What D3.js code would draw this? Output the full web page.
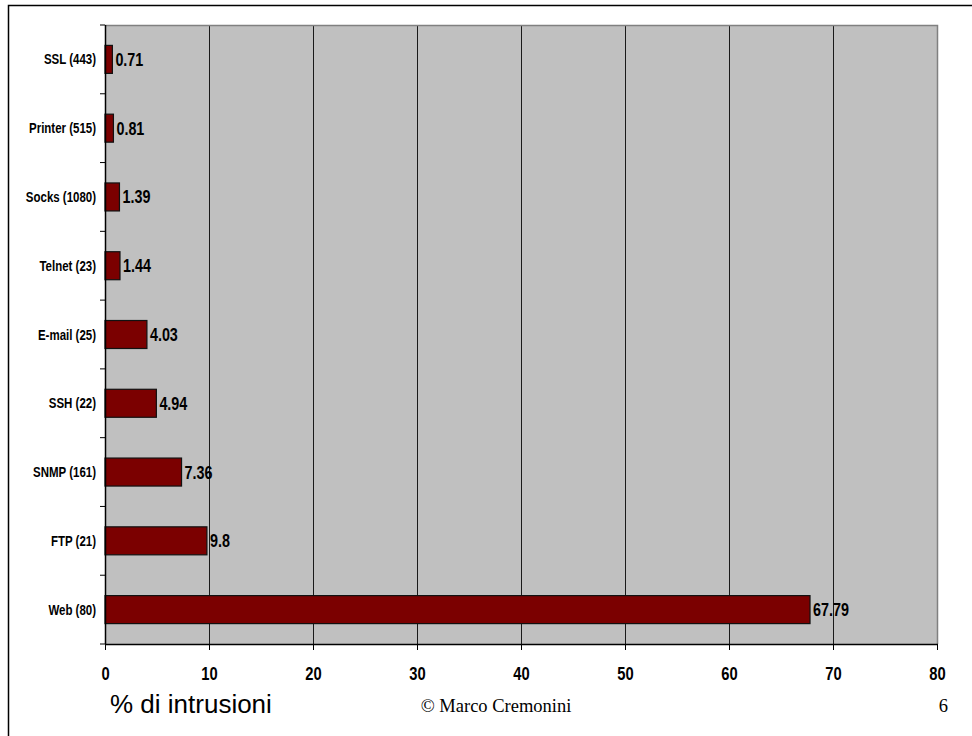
<!DOCTYPE html>
<html><head><meta charset="utf-8">
<script src="https://cdn.jsdelivr.net/npm/d3@7"></script>
<style>
html,body{margin:0;padding:0;background:#fff;}
svg{display:block;}
</style></head>
<body>
<svg id="c" width="972" height="736"></svg>
<script>
const categories = ["SSL (443)","Printer (515)","Socks (1080)","Telnet (23)","E-mail (25)","SSH (22)","SNMP (161)","FTP (21)","Web (80)"];
const values = [0.71,0.81,1.39,1.44,4.03,4.94,7.36,9.8,67.79];
const valueLabels = ["0.71","0.81","1.39","1.44","4.03","4.94","7.36","9.8","67.79"];
const xTicks = [0,10,20,30,40,50,60,70,80];
const xTitle = "% di intrusioni";
const footer = "© Marco Cremonini";
const pageNum = "6";

const sans = "'Liberation Sans',Arial,sans-serif";
const NS = 0.82; // narrow horizontal squeeze
const svg = d3.select("#c");
const L = 105, R = 937, T = 25, B = 644;

// outer frame
svg.append("path").attr("d","M8.5,736 L8.5,5.5 L972,5.5").attr("fill","none").attr("stroke","#000").attr("stroke-width",1.5);

const x = d3.scaleLinear().domain([0,80]).range([L,R]);
const y = d3.scaleBand().domain(categories).range([T,B]).paddingInner(0.593).paddingOuter(0.2965);

// plot background
svg.append("rect").attr("x",L).attr("y",T).attr("width",R-L).attr("height",B-T).attr("fill","#c0c0c0");
// grid
svg.append("g").selectAll("line").data(xTicks.filter(d=>d>0&&d<80)).join("line")
  .attr("x1",d=>x(d)+0.5).attr("x2",d=>x(d)+0.5).attr("y1",T).attr("y2",B)
  .attr("stroke","#1a1a1a").attr("stroke-width",1);
// top/right border gray
svg.append("path").attr("d",`M${L},${T+0.5} L${R+0.5},${T+0.5} L${R+0.5},${B}`).attr("fill","none").attr("stroke","#808080").attr("stroke-width",1.5);

// bars
svg.append("g").selectAll("rect").data(values).join("rect")
  .attr("x",x(0)).attr("y",(d,i)=>y(categories[i]))
  .attr("width",d=>x(d)-x(0)).attr("height",y.bandwidth())
  .attr("fill","#7b0000").attr("stroke","#111").attr("stroke-width",1.2);

// value labels
svg.append("g").selectAll("text").data(values).join("text")
  .attr("transform",(d,i)=>`translate(${x(d)+3},${y(categories[i])+y.bandwidth()/2+6.5}) scale(${NS},1)`)
  .attr("font-family",sans).attr("font-weight","bold").attr("font-size",17.5).attr("fill","#000")
  .text((d,i)=>valueLabels[i]);

// y axis
const step = y.step();
const boundaries = d3.range(categories.length+1).map(i=>T+i*step);
svg.append("g").selectAll("line").data(boundaries).join("line")
  .attr("x1",L-5).attr("x2",L).attr("y1",d=>d).attr("y2",d=>d).attr("stroke","#000");
svg.append("line").attr("x1",L+0.5).attr("x2",L+0.5).attr("y1",T).attr("y2",B).attr("stroke","#000").attr("stroke-width",1.5);
svg.append("g").selectAll("text").data(categories).join("text")
  .attr("transform",d=>`translate(96,${y(d)+y.bandwidth()/2+5}) scale(${NS},1)`)
  .attr("text-anchor","end").attr("font-family",sans).attr("font-weight","bold").attr("font-size",14)
  .text(d=>d);

// x axis
svg.append("line").attr("x1",L).attr("x2",R+1).attr("y1",B+0.5).attr("y2",B+0.5).attr("stroke","#000").attr("stroke-width",1.5);
svg.append("g").selectAll("line").data(xTicks).join("line")
  .attr("x1",d=>x(d)+0.5).attr("x2",d=>x(d)+0.5).attr("y1",B).attr("y2",B+6).attr("stroke","#000");
svg.append("g").selectAll("text").data(xTicks).join("text")
  .attr("transform",d=>`translate(${x(d)+0.5},679.5) scale(${NS},1)`)
  .attr("text-anchor","middle").attr("font-family",sans).attr("font-weight","bold").attr("font-size",18)
  .text(d=>d);

svg.append("text").attr("x",110).attr("y",713).attr("font-family",sans).attr("font-size",26).text(xTitle);
svg.append("text").attr("x",496).attr("y",712).attr("text-anchor","middle").attr("font-family","'Liberation Serif','Times New Roman',serif").attr("font-size",18.5).text(footer);
svg.append("text").attr("x",948).attr("y",712).attr("text-anchor","end").attr("font-family","'Liberation Serif','Times New Roman',serif").attr("font-size",18.5).text(pageNum);
</script>
</body></html>
